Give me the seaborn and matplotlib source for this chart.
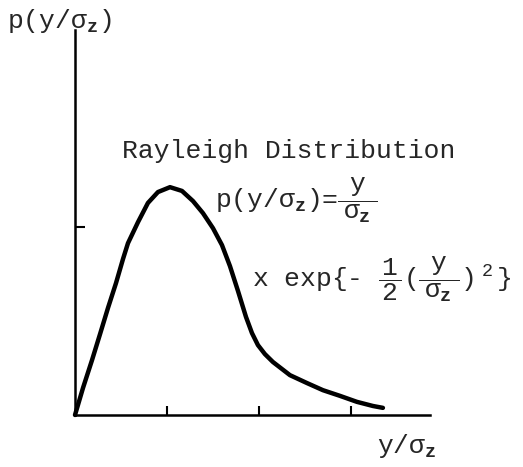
import numpy as np
import matplotlib
matplotlib.use("Agg")
import matplotlib.pyplot as plt
import seaborn as sns

sns.set_style("white")
plt.rcParams['font.family'] = ['Liberation Mono', 'DejaVu Sans']
plt.rcParams['mathtext.fontset'] = 'custom'
plt.rcParams['mathtext.rm'] = 'Liberation Mono'
plt.rcParams['mathtext.it'] = 'Liberation Mono'
plt.rcParams['mathtext.bf'] = 'Liberation Mono:bold'

# curve (x in units of sigma, y = density)
y_over_sigma = [0.0, 0.087, 0.185, 0.272, 0.359, 0.446, 0.522, 0.576, 0.685, 0.793,
                0.902, 1.033, 1.163, 1.283, 1.391, 1.500, 1.598, 1.685, 1.772, 1.859,
                1.924, 1.989, 2.065, 2.152, 2.337, 2.522, 2.696, 2.880, 3.065, 3.239,
                3.348]
density = [0.0, 0.072, 0.146, 0.215, 0.285, 0.351, 0.415, 0.457, 0.513, 0.564,
           0.593, 0.606, 0.596, 0.569, 0.537, 0.497, 0.452, 0.396, 0.330, 0.261,
           0.218, 0.186, 0.162, 0.141, 0.106, 0.085, 0.066, 0.051, 0.035, 0.024,
           0.019]
x_ticks = [1, 2, 3]
y_ticks = [0.5]

W, H = 523, 467
fig = plt.figure(figsize=(W / 100, H / 100), dpi=100)
ax = fig.add_axes([75 / W, 1 - 415 / H, 355 / W, 385 / H])

sns.lineplot(x=y_over_sigma, y=density, ax=ax, color='black', linewidth=3.2,
             sort=False, clip_on=False, solid_joinstyle='round', solid_capstyle='round')

ax.set_xlim(0, 3.86)
ax.set_ylim(0, 1.024)
sns.despine(ax=ax)
for s in ['left', 'bottom']:
    ax.spines[s].set_linewidth(1.8)
    ax.spines[s].set_color('black')
ax.set_xticks(x_ticks)
ax.set_yticks(y_ticks)
ax.set_xticklabels([])
ax.set_yticklabels([])
ax.tick_params(axis='x', direction='in', length=6.5, width=1.5, color='black', bottom=True)
ax.tick_params(axis='y', direction='in', length=7, width=1.5, color='black', left=True)


def fpos(x, y):
    return x / W, 1 - y / H


fs = 19
fig.text(*fpos(7, 28), r'p(y/σ$_{\mathbf{z}}$)', fontsize=fs, va='baseline')
fig.text(*fpos(122, 158), 'Rayleigh Distribution', fontsize=fs, va='baseline')
fig.text(*fpos(377, 453), r'y/σ$_{\mathbf{z}}$', fontsize=fs, va='baseline')
fig.text(*fpos(215, 208), r'p(y/σ$_{\mathbf{z}}$)=$\dfrac{\ y\ }{\ σ_{\mathbf{z}}\ }$',
         fontsize=fs, va='baseline')
fig.text(*fpos(252, 287),
         r'x exp{- $\dfrac{\,1\,}{\,2\,}(\dfrac{\ y\ }{\ σ_{\mathbf{z}}\ })\ {}^{2}\,$}',
         fontsize=fs, va='baseline')

plt.savefig('out.png', dpi=100)
